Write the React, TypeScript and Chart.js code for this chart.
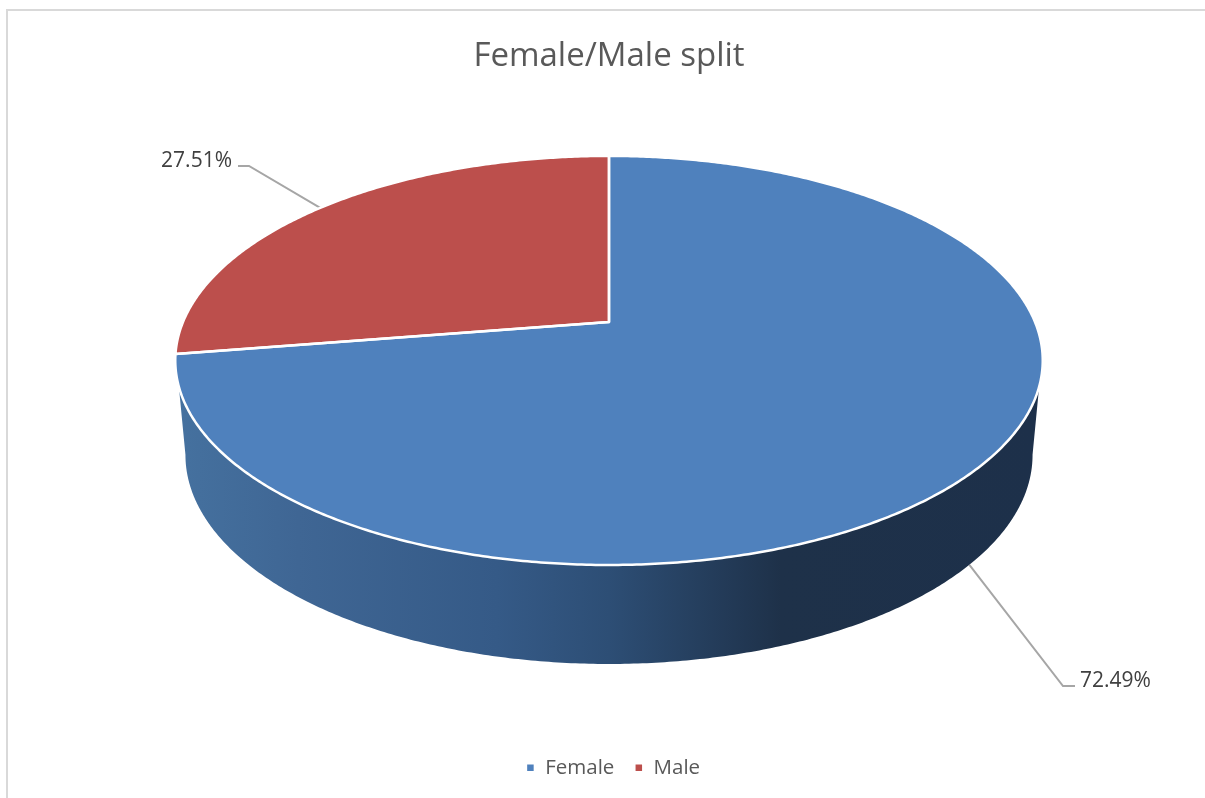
import React, { useEffect, useRef } from "react";
import { Chart, registerables } from "chart.js";

Chart.register(...registerables);

const categories = ["Female", "Male"];
const shares = [72.49, 27.51];
const sliceColors = ["#4f81bd", "#bc4f4c"];
const chartTitle = "Female/Male split";

const FONT = "'Open Sans', 'Noto Sans', sans-serif";
const DEG = Math.PI / 180;
const PERSPECTIVE = 0.188;
const topFace = { cx: 609, apex: 322, A: 426, B: 197.3 };
const bottomFace = { cx: 609, apex: 415.7, A: 416, B: 201.6 };
const FRONT_START = 108 * DEG;
const FRONT_END = 252 * DEG;
const TANGENT_SHIFT = 7.2 * DEG;

type Face = typeof topFace;

function project(theta: number, f: Face): [number, number] {
  const u = Math.sin(theta);
  const v = Math.cos(theta);
  const w = 1 + PERSPECTIVE * v;
  return [f.cx + (f.A * u) / w, f.apex - (f.B * v) / w];
}

function sweep(ctx: CanvasRenderingContext2D, from: number, to: number, f: Face) {
  const n = Math.max(2, Math.ceil(Math.abs(to - from) / (0.5 * DEG)));
  for (let i = 0; i <= n; i++) {
    const [x, y] = project(from + ((to - from) * i) / n, f);
    ctx.lineTo(x, y);
  }
}

const leaderElbows = [
  { elbow: [1063, 686], end: [1075, 686], textX: 1080, textY: 681.5, align: "left" },
  { elbow: [249, 166], end: [238, 166], textX: 232, textY: 161, align: "right" },
];

const pie3d = {
  id: "pie3d",
  beforeDraw(chart: any) {
    const { ctx, width, height } = chart;
    ctx.save();
    ctx.fillStyle = "#ffffff";
    ctx.fillRect(0, 0, width, height);
    ctx.strokeStyle = "#d9d9d9";
    ctx.lineWidth = 2;
    ctx.beginPath();
    ctx.moveTo(7, height);
    ctx.lineTo(7, 10);
    ctx.lineTo(width, 10);
    ctx.stroke();
    ctx.restore();
  },
  afterLayout(chart: any) {
    chart.legend.left += 4;
    chart.legend.right += 4;
  },
  beforeDatasetDraw(chart: any, args: any) {
    const { ctx } = chart;
    const arcs = chart.getDatasetMeta(args.index).data;
    const toTheta = (a: number) => a + Math.PI / 2;

    ctx.save();
    const grad = ctx.createLinearGradient(178, 0, 1040, 0);
    grad.addColorStop(0, "#45719f");
    grad.addColorStop(0.14, "#3f6694");
    grad.addColorStop(0.37, "#355a87");
    grad.addColorStop(0.5, "#2d4e75");
    grad.addColorStop(0.7, "#1e3149");
    grad.addColorStop(1, "#1d304a");

    // leader lines sit under the pie
    arcs.forEach((el: any, i: number) => {
      const mid = (toTheta(el.startAngle) + toTheta(el.endAngle)) / 2;
      const front = Math.cos(mid) < 0;
      const [sx, sy] = project(mid, front ? bottomFace : topFace);
      const l = leaderElbows[i];
      ctx.strokeStyle = "#a6a6a6";
      ctx.lineWidth = 2;
      ctx.beginPath();
      ctx.moveTo(sx, sy);
      ctx.lineTo(l.elbow[0], l.elbow[1]);
      ctx.lineTo(l.end[0], l.end[1]);
      ctx.stroke();
      ctx.fillStyle = "#404040";
      ctx.font = `21px ${FONT}`;
      ctx.textAlign = l.align;
      ctx.textBaseline = "middle";
      ctx.fillText(`${shares[i].toFixed(2)}%`, l.textX, l.textY);
    });

    // side wall
    arcs.forEach((el: any) => {
      const lo = Math.max(toTheta(el.startAngle), FRONT_START);
      const hi = Math.min(toTheta(el.endAngle), FRONT_END);
      if (hi <= lo) return;
      ctx.beginPath();
      sweep(ctx, lo, hi, topFace);
      sweep(ctx, hi + TANGENT_SHIFT, lo - TANGENT_SHIFT, bottomFace);
      ctx.closePath();
      ctx.fillStyle = grad;
      ctx.fill();
    });

    // top face
    arcs.forEach((el: any) => {
      ctx.beginPath();
      ctx.moveTo(topFace.cx, topFace.apex);
      sweep(ctx, toTheta(el.startAngle), toTheta(el.endAngle), topFace);
      ctx.closePath();
      ctx.fillStyle = el.options.backgroundColor;
      ctx.fill();
    });
    arcs.forEach((el: any) => {
      ctx.beginPath();
      ctx.moveTo(topFace.cx, topFace.apex);
      sweep(ctx, toTheta(el.startAngle), toTheta(el.endAngle), topFace);
      ctx.closePath();
      ctx.strokeStyle = el.options.borderColor;
      ctx.lineWidth = el.options.borderWidth;
      ctx.lineJoin = "round";
      ctx.stroke();
    });
    ctx.restore();
    return false;
  },
};

export default function App() {
  const ref = useRef<HTMLCanvasElement>(null);
  useEffect(() => {
    const chart = new Chart(ref.current!, {
      type: "pie",
      data: {
        labels: categories,
        datasets: [
          {
            data: shares,
            backgroundColor: sliceColors,
            borderColor: "#ffffff",
            borderWidth: 2.5,
          },
        ],
      },
      plugins: [pie3d],
      options: {
        animation: false,
        responsive: false,
        layout: { padding: { left: 13, right: 0, top: 0, bottom: 10 } },
        plugins: {
          tooltip: { enabled: false },
          title: {
            display: true,
            text: chartTitle,
            color: "#595959",
            font: { family: FONT, size: 33, weight: "normal" },
            padding: { top: 37, bottom: 10 },
          },
          legend: {
            position: "bottom",
            labels: {
              boxWidth: 9,
              boxHeight: 9,
              padding: 20,
              color: "#595959",
              font: { family: FONT, size: 20.5 },
            },
          },
        },
      },
    } as any);
    return () => chart.destroy();
  }, []);
  return (
    <canvas
      ref={ref}
      width={1205}
      height={798}
      style={{ position: "fixed", left: 0, top: 0, display: "block" }}
    />
  );
}
